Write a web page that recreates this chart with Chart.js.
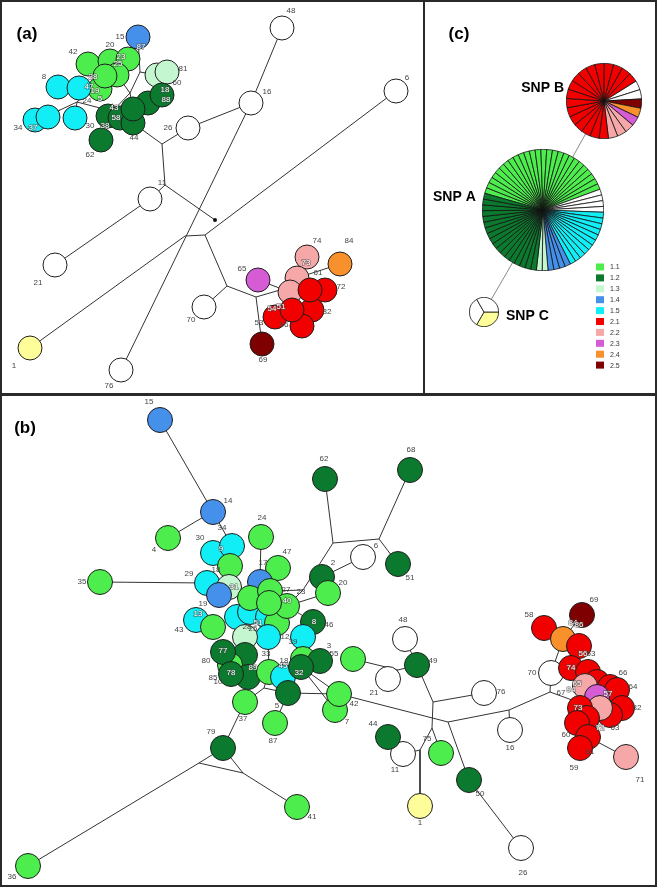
<!DOCTYPE html>
<html>
<head>
<meta charset="utf-8">
<script src="https://cdn.jsdelivr.net/npm/chart.js@4.4.1/dist/chart.umd.min.js"></script>
<style>
body { margin: 0; background: #fff; }
#wrap { position: relative; width: 657px; height: 887px; overflow: hidden; }
#net { position: absolute; left: 0; top: 0; }
.box { position: absolute; border: 2px solid #2a2a2a; box-sizing: border-box; }
.pie { position: absolute; }
</style>
</head>
<body>
<div id="wrap">
  <canvas id="net" width="657" height="887"></canvas>
  <div class="box" style="left:0;top:0;width:425px;height:395px"></div>
  <div class="box" style="left:423px;top:0;width:234px;height:395px"></div>
  <div class="box" style="left:0;top:394px;width:657px;height:493px"></div>
  <canvas class="pie" id="snpB" width="76" height="76" style="left:566px;top:63px"></canvas>
  <canvas class="pie" id="snpA" width="122" height="122" style="left:482px;top:149px"></canvas>
  <canvas class="pie" id="snpC" width="30" height="30" style="left:469px;top:297px"></canvas>
</div>
<script>
// clade groups and their colours
var groupNames = ["1.1", "1.2", "1.3", "1.4", "1.5", "2.1", "2.2", "2.3", "2.4", "2.5"];
var groupColors = ["#4ded4d", "#0c7a2e", "#c4f6d0", "#4590ea", "#12eef6", "#f20000", "#f6a8a8", "#d65cd6", "#f8902c", "#7e0000"];
var extraColors = { W: "#ffffff", Y: "#fdfd9a" };

// panel (a): isolates [id, x, y, group]
var nodesA = [
  ["a48",282,28,"W"],["a16",251,103,"W"],["a6",396,91,"W"],["a26",188,128,"W"],
  ["a11",150,199,"W"],["a21",55,265,"W"],["a1",30,348,"Y"],["a76",121,370,"W"],["a70",204,307,"W"],
  ["a15",138,37,"1.4"],
  ["a42",88,64,"1.1"],["a20",110,61,"1.1"],["a23",128,59,"1.1"],["a25",117,75,"1.1"],["a19",100,89,"1.1"],["a28",105,76,"1.1"],
  ["a60",157,75,"1.3"],["a81",167,72,"1.3"],
  ["a8",58,87,"1.5"],["a47",79,88,"1.5"],["a34",35,120,"1.5"],["a27",48,117,"1.5"],["a30",75,118,"1.5"],
  ["a62",101,140,"1.2"],["a43",108,116,"1.2"],["a58",120,118,"1.2"],["a44",133,123,"1.2"],["a3",148,103,"1.2"],["a18",162,95,"1.2"],["a40",133,109,"1.2"],
  ["a74",307,257,"2.2"],["a73",297,278,"2.2"],["a84",340,264,"2.4"],["a65",258,280,"2.3"],["a61",290,292,"2.2"],
  ["a72",325,290,"2.1"],["a82",312,310,"2.1"],["a54",275,317,"2.1"],["a66",302,326,"2.1"],["a57",310,290,"2.1"],["a51",292,310,"2.1"],
  ["a69",262,344,"2.5"]
];
var joinsA = [
  ["ja1",140,72],["ja2",130,93],["ja3",77,102],["ja4",60,110],["ja5",100,108],["ja6",162,144],
  ["ja7",165,185],["ja8",215,220],["ja9",185,236],["ja10",205,235],["ja11",227,286],["ja12",256,297],["ja13",280,290]
];
var edgesA = [
  ["a15","ja1"],["ja1","a60"],["ja1","ja2"],["ja2","a25"],["ja2","a43"],["ja2","a40"],
  ["a28","ja3"],["ja3","ja4"],["ja4","a34"],["ja4","a27"],["ja3","a30"],["ja3","ja5"],["ja5","a43"],
  ["a44","ja6"],["ja6","a26"],["ja6","ja7"],["a26","a16"],["a16","a48"],["a16","a76"],
  ["ja7","a11"],["ja7","ja8"],["a11","a21"],["ja9","ja10"],["ja9","a1"],["ja10","a6"],["ja10","ja11"],
  ["ja11","a70"],["ja11","ja12"],["ja12","a69"],["ja12","ja13"],["ja13","a61"],["a65","a61"],["a84","a73"]
];
var labelsA = [
  ["15",120,37],["87",141,47,1],["42",73,52],["20",110,45],["23",121,57,1],["25",118,64,1],["28",93,77,1],
  ["47",89,87,1],["19",95,91,1],["5",100,99,1],["8",44,77],["24",87,101],["34",18,128],["37",33,128,1],
  ["30",90,126],["43",114,108,1],["58",116,118,1],["38",105,126,1],["44",134,138],["62",90,155],
  ["18",165,90,1],["88",166,100,1],["81",183,69],["60",177,83],["26",168,128],["16",267,92],["48",291,11],
  ["6",407,78],["11",162,183],["21",38,283],["1",14,366],["76",109,386],["70",191,320],["65",242,269],
  ["74",317,241],["73",306,263,1],["61",318,273],["84",349,241],["72",341,287],["82",327,312],
  ["54",272,309,1],["51",281,307,1],["66",284,325],["53",259,323],["69",263,360]
];

// panel (b): isolates [id, x, y, group]
var nodesB = [
  ["b15",160,420,"1.4"],["b14",213,512,"1.4"],["b4",168,538,"1.1"],["b62",325,479,"1.2"],["b68",410,470,"1.2"],
  ["b6",363,557,"W"],["b51",398,564,"1.2"],["b35",100,582,"1.1"],["b24",261,537,"1.1"],
  ["b30",213,553,"1.5"],["b34",232,546,"1.5"],["b47",278,568,"1.1"],["b17",260,582,"1.4"],["b18",230,566,"1.1"],
  ["b29",207,583,"1.5"],["b31",229,587,"1.3"],["b19",219,595,"1.4"],
  ["b2",322,577,"1.2"],["b20",328,593,"1.1"],["b46",313,622,"1.2"],
  ["bc1",237,617,"1.5"],["bc2",250,612,"1.5"],["bc3",268,617,"1.5"],["bg3",277,623,"1.1"],
  ["bg1",250,598,"1.1"],["b27",270,591,"1.1"],["b40",287,606,"1.1"],["bg2",269,603,"1.1"],
  ["b13",196,620,"1.5"],["bgL",213,627,"1.1"],
  ["b12",268,637,"1.5"],["b39",303,637,"1.5"],["b28",245,637,"1.3"],
  ["bd1",245,655,"1.2"],["bg4",230,665,"1.1"],["b77",223,652,"1.2"],
  ["bd2",248,677,"1.2"],["b78",231,674,"1.2"],["b33",269,672,"1.1"],["bc4",283,677,"1.5"],
  ["bg5",303,659,"1.1"],["b3",320,661,"1.2"],["b32",301,667,"1.2"],["b5",288,693,"1.2"],["b55",353,659,"1.1"],
  ["b7",335,710,"1.1"],["b42",339,694,"1.1"],["b37",245,702,"1.1"],["b87",275,723,"1.1"],
  ["b79",223,748,"1.2"],["b41",297,807,"1.1"],["b36",28,866,"1.1"],
  ["b48",405,639,"W"],["b49",417,665,"1.2"],["b21",388,679,"W"],["b11",403,754,"W"],["b44",388,737,"1.2"],
  ["b75",441,753,"1.1"],["b1",420,806,"Y"],["b50",469,780,"1.2"],["b26",521,848,"W"],
  ["b76",484,693,"W"],["b16",510,730,"W"],["b70",551,673,"W"],
  ["b69",582,615,"2.5"],["b58",544,628,"2.1"],["b84",563,639,"2.4"],["b56",579,646,"2.1"],
  ["b74",571,668,"2.1"],["br1",588,672,"2.1"],["br2",597,682,"2.1"],["b66",610,687,"2.1"],["b64",617,690,"2.1"],
  ["b65",585,686,"2.2"],["b82",622,708,"2.1"],["bv",597,697,"2.3"],["br3",610,715,"2.1"],["b57",600,708,"2.2"],
  ["b73",580,708,"2.1"],["br4",587,718,"2.1"],["br5",577,723,"2.1"],["b72",588,737,"2.1"],["b61",580,748,"2.1"],["b71",626,757,"2.2"]
];
var joinsB = [
  ["jb1",200,519],["jb62",333,543],["jb51",379,539],["jb23",303,590],["jb37",264,688],
  ["jb79a",199,763],["jb79b",243,773],["jb49",398,670],["jbE",433,702],["jbF",448,722],["jbH",432,728],["jb11",420,750],
  ["jb16",509,710],["jb67",550,692],["jbR",572,700]
];
var edgesB = [
  ["b15","b14"],["b14","jb1"],["jb1","b4"],["b14","b34"],["b24","b17"],["b35","b29"],
  ["b62","jb62"],["jb62","jb51"],["jb51","b51"],["jb51","b68"],["jb62","jb23"],["jb23","b27"],["jb23","b40"],
  ["b2","b6"],["b2","b20"],["b20","b40"],["b46","b40"],["b47","b27"],
  ["b18","b31"],["b29","b19"],["b17","b27"],["b13","bgL"],["b28","b12"],["b12","b33"],["b39","bg5"],
  ["b32","b42"],["b32","b7"],["b5","b42"],["b5","b87"],["b37","jb37"],["jb37","b5"],["jb37","b33"],
  ["b37","b79"],["b79","jb79a"],["b79","jb79b"],["jb79a","jb79b"],["jb79a","b36"],["jb79b","b41"],
  ["b55","jb49"],["b21","jb49"],["jb49","b49"],["b48","b49"],["b49","jbE"],["jbE","b76"],["jbE","jbH"],
  ["b42","jbF"],["jbF","jb16"],["jbF","b50"],["jbH","b75"],["jbH","jb11"],["jb11","b1"],["jb11","b11"],["b50","b26"],
  ["jb16","b16"],["jb16","jb67"],["jb67","b70"],["jb67","jbR"],["b70","b84"],["b84","b58"],["b84","b69"],["b72","b71"]
];
var labelsB = [
  ["15",149,402],["14",228,501],["4",154,550],["24",262,518],["30",200,538],["34",222,528],["9",221,549,1],
  ["18",216,570],["47",287,552],["17",263,563],["35",82,582],["29",189,574],["31",234,587,1],["19",203,604],
  ["27",286,590],["23",301,592],["40",287,601,1],["2",333,563],["20",343,583],["8",314,622,1],["46",329,625],
  ["13",198,614,1],["43",179,630],["51",258,623,1],["28",247,627],["25",253,629],["12",285,637],["39",293,642],
  ["77",223,651,1],["80",206,661],["3",329,646],["55",334,654],["33",266,654],["18",284,661],["45",283,666,1],
  ["78",231,673,1],["85",213,678],["10",218,682],["89",253,668,1],["32",299,673,1],["5",277,706],
  ["42",354,704],["7",347,722],["37",243,719],["87",273,741],["79",211,732],["41",312,817],["36",12,877],
  ["62",324,459],["68",411,450],["6",376,546],["51",410,578],["48",403,620],["49",433,661],["21",374,693],
  ["44",373,724],["11",395,770],["75",427,739],["1",420,823],["50",480,794],["26",523,873],["76",501,692],
  ["16",510,748],["70",532,673],["67",561,693],["69",594,600],["58",529,615],["84",573,623,1],["86",579,625,1],
  ["56",583,654,1],["53",591,654],["74",571,668,1],["65",577,684,1],["94",571,690,1],["66",623,673],["64",633,687],
  ["57",608,694,1],["82",637,708],["73",578,708,1],["72",600,728,1],["63",615,728],["60",566,735],["61",590,752],
  ["59",574,768],["71",640,780]
];

// panel (c): SNP clusters, one slice per isolate, clockwise
var snpAGroups = ["1.1", "W", "1.5", "1.4", "1.3", "1.2"];
var snpACounts = [26, 4, 11, 4, 2, 18];
var snpBGroups = ["W", "2.5", "2.4", "2.3", "2.2", "2.1"];
var snpBCounts = [2, 1, 1, 1, 3, 17];
var snpCGroups = ["Y", "W"];
var snpCCounts = [1, 2];
var joinsC = [["cB",604,101],["cA",543,210],["cC",484,312]];
var edgesC = [["cB","cA"],["cA","cC"]];

var pos = {};
[nodesA, nodesB, joinsA, joinsB, joinsC].forEach(function (list) {
  list.forEach(function (n) { pos[n[0]] = { x: n[1], y: n[2] }; });
});

function colourOf(g) {
  var i = groupNames.indexOf(g);
  return i >= 0 ? groupColors[i] : extraColors[g];
}
function edgePoints(list) {
  var d = [];
  list.forEach(function (e) {
    d.push({ x: pos[e[0]].x, y: pos[e[0]].y }, { x: pos[e[1]].x, y: pos[e[1]].y }, { x: null, y: null });
  });
  return d;
}
function nodeData(list) {
  return list.map(function (n) { return { x: n[1], y: n[2] }; });
}
function nodeColours(list) {
  return list.map(function (n) { return colourOf(n[3]); });
}

var netText = {
  id: 'netText',
  afterDatasetsDraw: function (chart) {
    var ctx = chart.ctx, sx = chart.scales.x, sy = chart.scales.y;
    ctx.save();
    ctx.textAlign = 'center';
    ctx.textBaseline = 'middle';
    ctx.font = '8px "Liberation Sans", Arial, sans-serif';
    labelsA.concat(labelsB).forEach(function (l) {
      var x = sx.getPixelForValue(l[1]), y = sy.getPixelForValue(l[2]);
      if (l[3]) {
        ctx.lineWidth = 1.5;
        ctx.strokeStyle = 'rgba(70,70,70,0.6)';
        ctx.strokeText(l[0], x, y);
        ctx.fillStyle = '#ffffff';
      } else {
        ctx.fillStyle = '#444';
      }
      ctx.fillText(l[0], x, y);
    });

    // panel letters
    ctx.fillStyle = '#000';
    ctx.font = 'bold 17px "Liberation Sans", Arial, sans-serif';
    ctx.fillText('(a)', 27, 34);
    ctx.fillText('(b)', 25, 428);
    ctx.fillText('(c)', 459, 34);

    // SNP names
    ctx.font = 'bold 14px "Liberation Sans", Arial, sans-serif';
    ctx.textAlign = 'right';
    ctx.fillText('SNP B', 564, 88);
    ctx.textAlign = 'left';
    ctx.fillText('SNP A', 433, 197);
    ctx.fillText('SNP C', 506, 316);

    // legend
    ctx.font = '7px "Liberation Sans", Arial, sans-serif';
    groupNames.forEach(function (g, i) {
      var y = 267 + i * 10.9;
      ctx.fillStyle = groupColors[i];
      ctx.fillRect(596, y - 3.5, 8, 7);
      ctx.fillStyle = '#333';
      ctx.fillText(g, 610, y + 0.5);
    });
    ctx.restore();
  }
};

new Chart(document.getElementById('net'), {
  type: 'scatter',
  data: {
    datasets: [
      { data: edgePoints(edgesA.concat(edgesB)), showLine: true, spanGaps: false, borderColor: '#333',
        borderWidth: 1, pointRadius: 0, order: 3 },
      { data: edgePoints(edgesC), showLine: true, spanGaps: false, borderColor: '#8a8a8a',
        borderWidth: 1, pointRadius: 0, order: 3 },
      { data: [pos.ja8], pointRadius: 2, pointBackgroundColor: '#111', pointBorderWidth: 0, order: 2 },
      { data: nodeData(nodesA), pointRadius: 12, pointBackgroundColor: nodeColours(nodesA),
        pointBorderColor: '#1e1e1e', pointBorderWidth: 1, order: 1 },
      { data: nodeData(nodesB), pointRadius: 12.5, pointBackgroundColor: nodeColours(nodesB),
        pointBorderColor: '#1e1e1e', pointBorderWidth: 1, order: 1 }
    ]
  },
  options: {
    responsive: false,
    animation: false,
    events: [],
    layout: { padding: 0, autoPadding: false },
    scales: {
      x: { type: 'linear', min: 0, max: 657, display: false },
      y: { type: 'linear', min: 0, max: 887, reverse: true, display: false }
    },
    plugins: { legend: { display: false }, tooltip: { enabled: false } }
  },
  plugins: [netText]
});

function pieSlices(groups, counts) {
  var vals = [], cols = [];
  groups.forEach(function (g, i) {
    for (var k = 0; k < counts[i]; k++) { vals.push(1); cols.push(colourOf(g)); }
  });
  return { vals: vals, cols: cols };
}
function snpPie(id, groups, counts, rotation) {
  var s = pieSlices(groups, counts);
  new Chart(document.getElementById(id), {
    type: 'pie',
    data: { datasets: [{ data: s.vals, backgroundColor: s.cols, borderColor: '#111', borderWidth: 0.8 }] },
    options: {
      responsive: false, animation: false, events: [], rotation: rotation,
      layout: { padding: 0 },
      plugins: { legend: { display: false }, tooltip: { enabled: false } }
    }
  });
}
snpPie('snpA', snpAGroups, snpACounts, 286);
snpPie('snpB', snpBGroups, snpBCounts, 58);
snpPie('snpC', snpCGroups, snpCCounts, 90);
</script>
</body>
</html>
